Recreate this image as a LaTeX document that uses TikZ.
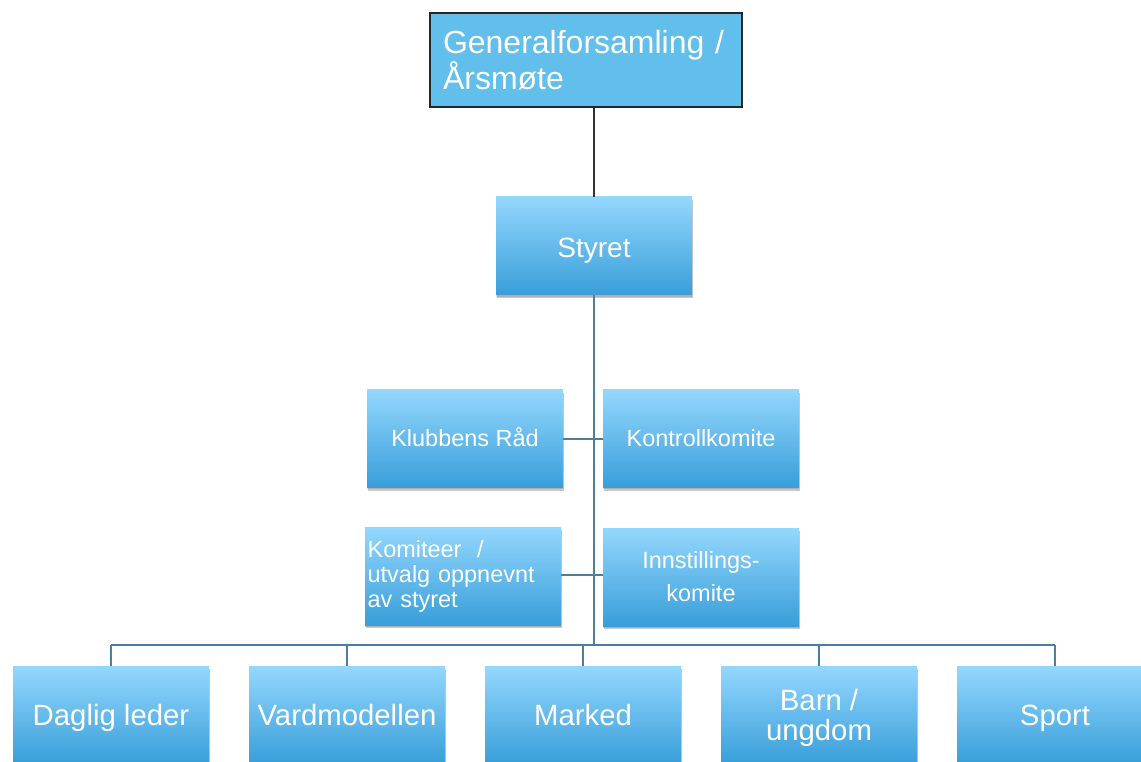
\documentclass[tikz,border=0pt]{standalone}
\usepackage{fontspec}
\setmainfont{Liberation Sans}
\usetikzlibrary{shadows}
\definecolor{gtop}{HTML}{94D7FE}
\definecolor{gbot}{HTML}{389ED9}
\definecolor{flatblue}{HTML}{62BEEA}
\definecolor{linkblue}{HTML}{4A7FA0}
\tikzset{
  gbox/.style={draw=none, top color=gtop, bottom color=gbot, text=white,
    minimum width=147pt, minimum height=73.5pt, inner sep=2pt,
    drop shadow={shadow xshift=0.6pt, shadow yshift=-2.4pt, opacity=0.3, fill=black!70},
    drop shadow={shadow xshift=0.3pt, shadow yshift=-1.2pt, opacity=0.25, fill=black!60}},
  midbox/.style={gbox, font=\fontsize{17.6pt}{18.75pt}\selectfont},
  botbox/.style={gbox, font=\fontsize{22pt}{22.5pt}\selectfont},
  midline/.style={text height=14.4pt, text depth=1.7pt},
  botline/.style={text height=18pt, text depth=2.2pt},
  link/.style={draw=linkblue, line width=1.5pt},
  toplink/.style={draw=black!80, line width=1.2pt},
}
\begin{document}
\begin{tikzpicture}[x=0.75pt, y=-0.75pt]
\clip (0,0) rectangle (1141,762);
\fill[white] (0,0) rectangle (1141,762);
% top box
\node[draw=black!85, line width=1.1pt, fill=flatblue, text=white,
  minimum width=234pt, minimum height=70.5pt, inner xsep=9.75pt,
  text width=214.5pt, align=left,
  font=\fontsize{24pt}{27pt}\selectfont] (gf) at (586,60)
  {Generalforsamling /\\Årsmøte};
% Styret
\node[gbox, text height=19pt, text depth=1pt, font=\fontsize{21pt}{24pt}\selectfont] (sty) at (594,246) {Styret};
% middle boxes
\node[midbox, midline] (kr) at (465,438.5) {Klubbens Råd};
\node[midbox, midline] (kk) at (701,438.5) {Kontrollkomite};
\node[midbox, text width=143pt, align=left] (ko) at (463,576) {Komiteer\ \ /\\utvalg oppnevnt\\av styret};
\node[midbox, font=\fontsize{17.6pt}{24.75pt}\selectfont, align=center] (ik) at (701,577) {Innstillings-\\komite};
% bottom boxes
\node[botbox, botline] (dl) at (111,715) {Daglig leder};
\node[botbox, botline] (vm) at (347,715) {Vardmodellen};
\node[botbox, botline] (mk) at (583,715) {Marked};
\node[botbox, align=center] (bu) at (819,715) {\rule{0pt}{21pt}Barn /\\ungdom};
\node[botbox, botline] (sp) at (1055,715) {Sport};
% connectors
\coordinate (bus) at (594,645);
\coordinate (cj) at (594,575);
\draw[toplink] (gf.south -| sty.north) -- (sty.north);
\draw[link] (sty.south) -- (bus);
\draw[link] (kr.east) -- (kr.east -| sty.south);
\draw[link] (kk.west) -- (kk.west -| sty.south);
\draw[link] (cj -| ko.east) -- (cj -| ik.west);
\draw[link] (dl.north |- bus) -- (sp.north |- bus);
\draw[link] (dl.north) -- (dl.north |- bus);
\draw[link] (vm.north) -- (vm.north |- bus);
\draw[link] (mk.north) -- (mk.north |- bus);
\draw[link] (bu.north) -- (bu.north |- bus);
\draw[link] (sp.north) -- (sp.north |- bus);
\end{tikzpicture}
\end{document}
